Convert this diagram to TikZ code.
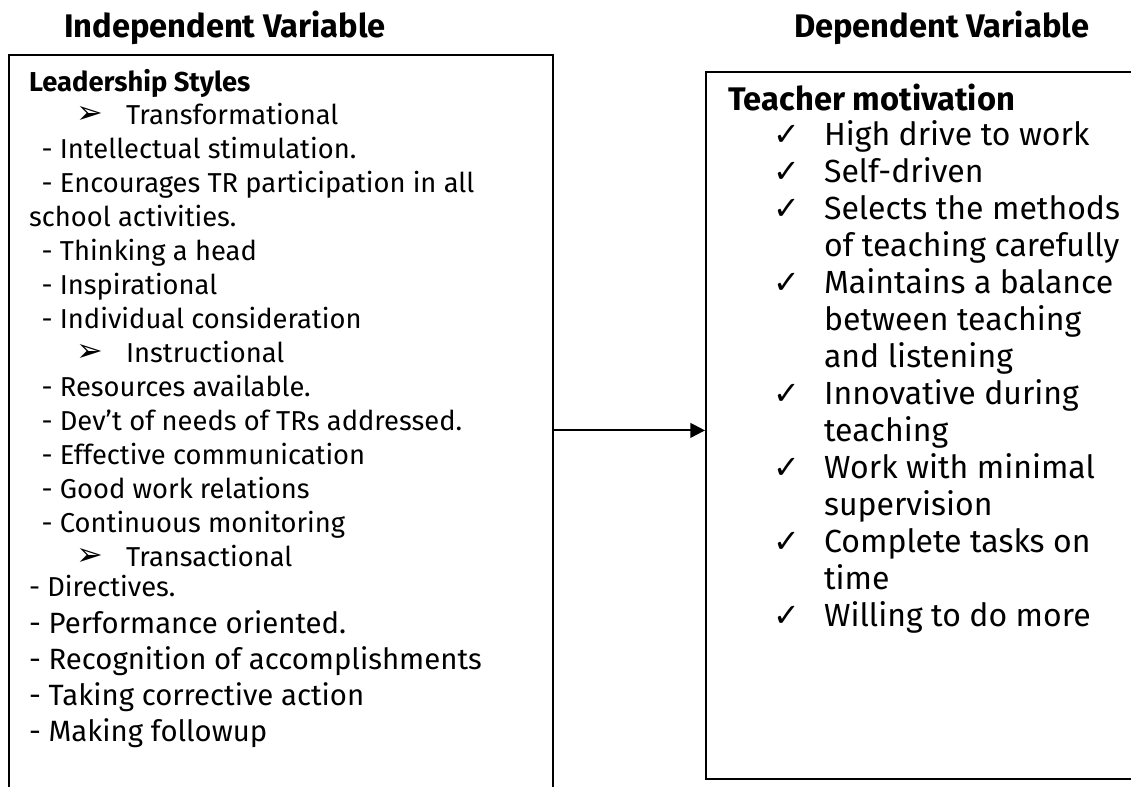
\documentclass[tikz,border=0pt]{standalone}
\usepackage{fontspec}
\setmainfont{Fira Sans}
\newfontfamily\symbfont{DejaVu Sans}
\usepackage{tikz}
\usetikzlibrary{arrows.meta, positioning}

\begin{document}
\begin{tikzpicture}[x=0.75pt, y=-0.75pt, line width=1.6pt,
  headtxt/.style={anchor=base west, inner sep=0pt, font=\fontsize{24.5}{29}\selectfont\bfseries},
  smalltxt/.style={anchor=base west, inner sep=0pt, font=\fontsize{20.5}{24}\selectfont},
  midtxt/.style={anchor=base west, inner sep=0pt, font=\fontsize{22}{26}\selectfont},
  bigtxt/.style={anchor=base west, inner sep=0pt, font=\fontsize{24}{28}\selectfont},
  bulletmark/.style={anchor=center, inner sep=0pt, font=\symbfont\fontsize{24}{28}\selectfont},
  checkmark/.style={anchor=center, inner sep=0pt, font=\symbfont\fontsize{24}{28}\selectfont},
  varbox/.style={draw, anchor=north west, inner sep=0pt}]
\useasboundingbox (0,0) rectangle (1131,786);
% column headings
\node[headtxt] (indhead) at (63,37) {Independent Variable};
\node[headtxt] (dephead) at (793,37) {Dependent Variable};
% the two boxes
\node[varbox, minimum width=408pt, minimum height=563pt] (lbox) at (8,54) {};
\node[varbox, minimum width=345pt, minimum height=530pt] (rbox) at (705,71) {};
\draw[-{Triangle[length=11pt, width=11pt]}] (lbox.east) -- (rbox.west |- lbox.east);
% independent variable: leadership styles
\node[headtxt, font=\fontsize{20.5}{24}\selectfont\bfseries] (lead) at (28,91) {Leadership Styles};
\node[bulletmark] (bt1) at (90,115) {➢};
\node[smalltxt] (tf) at (125,124) {Transformational};
\node[smalltxt] (l1) at (36,158) {\,- Intellectual stimulation.};
\node[smalltxt] (l2) at (36,192) {\,- Encourages TR participation in all};
\node[smalltxt] (l3) at (28,226) {school activities.};
\node[smalltxt] (l4) at (36,260) {\,- Thinking a head};
\node[smalltxt] (l5) at (36,294) {\,- Inspirational};
\node[smalltxt] (l6) at (36,328) {\,- Individual consideration};
\node[bulletmark] (bt2) at (90,353) {➢};
\node[smalltxt] (ins) at (125,362) {Instructional};
\node[smalltxt] (l7) at (36,396) {\,- Resources available.};
\node[smalltxt] (l8) at (36,430) {\,- Dev’t of needs of TRs addressed.};
\node[smalltxt] (l9) at (36,464) {\,- Effective communication};
\node[smalltxt] (l10) at (36,498) {\,- Good work relations};
\node[smalltxt] (l11) at (36,532) {\,- Continuous monitoring};
\node[bulletmark] (bt3) at (90,557) {➢};
\node[smalltxt] (tr) at (125,566) {Transactional};
\node[smalltxt] (l12) at (28,596) {- Directives.};
\node[midtxt] (l13) at (28,633) {- Performance oriented.};
\node[midtxt] (l14) at (28,669) {- Recognition of accomplishments};
\node[midtxt] (l15) at (28,705) {- Taking corrective action};
\node[midtxt] (l16) at (28,741) {- Making followup};
% dependent variable: teacher motivation
\node[headtxt] (tm) at (727,110) {Teacher motivation};
\node[checkmark] (ck1) at (787,135) {✓};
\node[bigtxt] (m1) at (823,145) {High drive to work};
\node[checkmark] (ck2) at (787,172) {✓};
\node[bigtxt] (m2) at (823,182) {Self-driven};
\node[checkmark] (ck3) at (787,209) {✓};
\node[bigtxt] (m3) at (823,219) {Selects the methods};
\node[bigtxt] (m3b) at (823,256) {of teaching carefully};
\node[checkmark] (ck4) at (787,283) {✓};
\node[bigtxt] (m4) at (823,293) {Maintains a balance};
\node[bigtxt] (m4b) at (823,330) {between teaching};
\node[bigtxt] (m4c) at (823,367) {and listening};
\node[checkmark] (ck5) at (787,394) {✓};
\node[bigtxt] (m5) at (823,404) {Innovative during};
\node[bigtxt] (m5b) at (823,441) {teaching};
\node[checkmark] (ck6) at (787,468) {✓};
\node[bigtxt] (m6) at (823,478) {Work with minimal};
\node[bigtxt] (m6b) at (823,515) {supervision};
\node[checkmark] (ck7) at (787,542) {✓};
\node[bigtxt] (m7) at (823,552) {Complete tasks on};
\node[bigtxt] (m7b) at (823,589) {time};
\node[checkmark] (ck8) at (787,616) {✓};
\node[bigtxt] (m8) at (823,626) {Willing to do more};
\end{tikzpicture}
\end{document}
